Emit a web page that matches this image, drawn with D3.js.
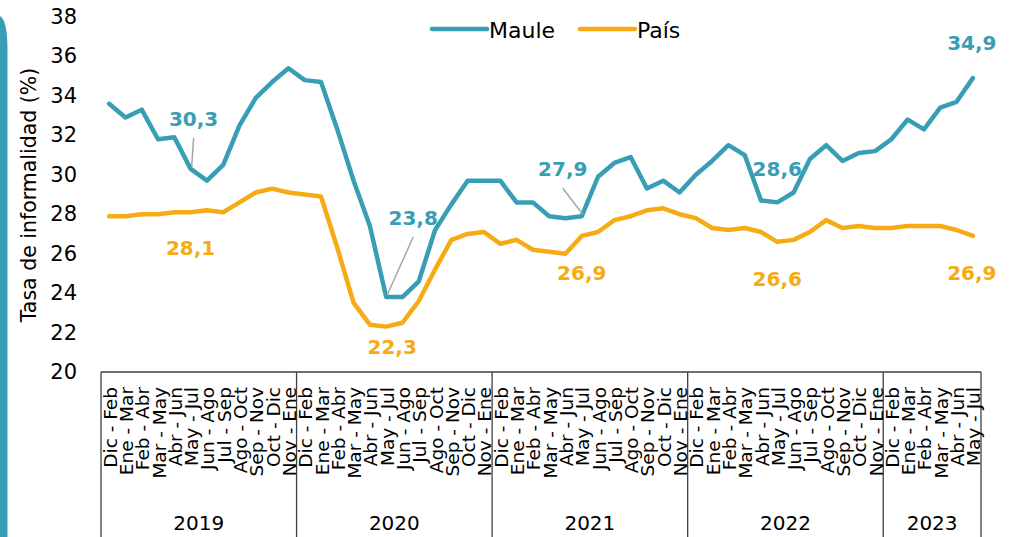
<!DOCTYPE html>
<html>
<head>
<meta charset="utf-8">
<script src="https://cdn.jsdelivr.net/npm/d3@7"></script>
<style>
  body { margin: 0; background: #fff; }
  svg { display: block; font-family: "DejaVu Sans", sans-serif; }
</style>
</head>
<body>
<div id="chart"></div>
<script>
// data
const years = ['2019', '2020', '2021', '2022', '2023'];
const yearCounts = [12, 12, 12, 12, 6];
const periods = ['Dic - Feb', 'Ene - Mar', 'Feb - Abr', 'Mar - May', 'Abr - Jun', 'May - Jul',
  'Jun - Ago', 'Jul - Sep', 'Ago - Oct', 'Sep - Nov', 'Oct - Dic', 'Nov - Ene'];

const maule = [
  33.6, 32.9, 33.3, 31.8, 31.9, 30.3, 29.7, 30.5, 32.5, 33.9, 34.7, 35.4,
  34.8, 34.7, 32.3, 29.7, 27.4, 23.8, 23.8, 24.6, 27.2, 28.5, 29.7, 29.7,
  29.7, 28.6, 28.6, 27.9, 27.8, 27.9, 29.9, 30.6, 30.9, 29.3, 29.7, 29.1,
  30.0, 30.7, 31.5, 31.0, 28.7, 28.6, 29.1, 30.8, 31.5, 30.7, 31.1, 31.2,
  31.8, 32.8, 32.3, 33.4, 33.7, 34.9
];
const pais = [
  27.9, 27.9, 28.0, 28.0, 28.1, 28.1, 28.2, 28.1, 28.6, 29.1, 29.3, 29.1,
  29.0, 28.9, 26.3, 23.5, 22.4, 22.3, 22.5, 23.6, 25.2, 26.7, 27.0, 27.1,
  26.5, 26.7, 26.2, 26.1, 26.0, 26.9, 27.1, 27.7, 27.9, 28.2, 28.3, 28.0,
  27.8, 27.3, 27.2, 27.3, 27.1, 26.6, 26.7, 27.1, 27.7, 27.3, 27.4, 27.3,
  27.3, 27.4, 27.4, 27.4, 27.2, 26.9
];
const yTicks = [20, 22, 24, 26, 28, 30, 32, 34, 36, 38];
const labelIdx = [5, 17, 29, 41, 53]; // points with value labels

const teal = '#379eb6', gold = '#f6ab14';

// categories built from years + periods
const cats = [];
years.forEach((yr, k) => {
  for (let m = 0; m < yearCounts[k]; m++) cats.push({ id: cats.length, year: yr, label: periods[m] });
});

const W = 1009, H = 537;
const svg = d3.select('#chart').append('svg').attr('width', W).attr('height', H);

// decorative stripe at the far left
svg.append('path')
  .attr('d', 'M0,16 C5,19 7.5,30 7.5,50 L7.5,537 L0,537 Z')
  .attr('fill', teal);

const x = d3.scaleBand().domain(cats.map(d => d.id)).range([101, 981]).padding(0);
const y = d3.scaleLinear().domain([20, 38]).range([372, 17]);
const cx = i => x(i) + x.bandwidth() / 2;

// y tick labels (no axis line)
svg.append('g').selectAll('text').data(yTicks).join('text')
  .attr('x', 77).attr('y', d => y(d))
  .attr('text-anchor', 'end').attr('dominant-baseline', 'central')
  .attr('font-size', 21).attr('fill', '#000')
  .text(d => d);

svg.append('text')
  .attr('transform', `translate(29,${(62 + 328) / 2}) rotate(-90)`)
  .attr('text-anchor', 'middle').attr('dominant-baseline', 'central')
  .attr('font-size', 20.5).attr('fill', '#000')
  .text('Tasa de informalidad (%)');

// x axis box + year separators
const axisCol = '#404040';
svg.append('line').attr('x1', 101).attr('x2', 981).attr('y1', 372).attr('y2', 372)
  .attr('stroke', axisCol).attr('stroke-width', 1.3);
let start = 0;
const bounds = [];
yearCounts.forEach((n, k) => {
  bounds.push({ x0: x(start), x1: x(start + n - 1) + x.bandwidth(), year: years[k] });
  start += n;
});
const sepX = [bounds[0].x0].concat(bounds.map(b => b.x1));
svg.append('g').selectAll('line').data(sepX).join('line')
  .attr('x1', d => d).attr('x2', d => d).attr('y1', 372).attr('y2', H)
  .attr('stroke', axisCol).attr('stroke-width', 1.3);

svg.append('g').selectAll('text').data(cats).join('text')
  .attr('transform', d => `translate(${cx(d.id) + 1},387) rotate(-90)`)
  .attr('text-anchor', 'end').attr('dominant-baseline', 'central')
  .attr('font-size', 18.5).attr('fill', '#000')
  .text(d => d.label);

svg.append('g').selectAll('text').data(bounds).join('text')
  .attr('x', d => (d.x0 + d.x1) / 2).attr('y', 523)
  .attr('text-anchor', 'middle').attr('dominant-baseline', 'central')
  .attr('font-size', 20).attr('fill', '#000')
  .text(d => d.year);

// lines
const line = d3.line().x((d, i) => cx(i)).y(d => y(d));
[[pais, gold], [maule, teal]].forEach(([vals, col]) => {
  svg.append('path').datum(vals).attr('d', line)
    .attr('fill', 'none').attr('stroke', col).attr('stroke-width', 4.5)
    .attr('stroke-linejoin', 'round').attr('stroke-linecap', 'round');
});

// value labels: offsets from the point, leaders where the reference has them
const fmt = v => d3.format('.1f')(v).replace('.', ',');
const mauleOff = [[3, -50, true], [27, -79, true], [-19, -47, true], [0, -33, false], [-1, -35, false]];
const paisOff = [[0, 36], [6, 20], [0, 37], [0, 37], [-1, 37]];
labelIdx.forEach((i, k) => {
  const px = cx(i), py = y(maule[i]);
  const [dx, dy, leader] = mauleOff[k];
  if (leader) {
    svg.append('line')
      .attr('x1', px + dx).attr('y1', py + dy + 19)
      .attr('x2', px + 1).attr('y2', py - 2)
      .attr('stroke', '#a6a6a6').attr('stroke-width', 1.5);
  }
  svg.append('text').attr('x', px + dx).attr('y', py + dy)
    .attr('text-anchor', 'middle').attr('dominant-baseline', 'central')
    .attr('font-size', 20).attr('font-weight', 'bold').attr('fill', teal)
    .text(fmt(maule[i]));
  const qy = y(pais[i]);
  svg.append('text').attr('x', px + paisOff[k][0]).attr('y', qy + paisOff[k][1])
    .attr('text-anchor', 'middle').attr('dominant-baseline', 'central')
    .attr('font-size', 20).attr('font-weight', 'bold').attr('fill', gold)
    .text(fmt(pais[i]));
});

// legend
const legend = [{ name: 'Maule', col: teal, x: 432 }, { name: 'País', col: gold, x: 580 }];
const lg = svg.append('g').selectAll('g').data(legend).join('g');
lg.append('line').attr('x1', d => d.x).attr('x2', d => d.x + 55).attr('y1', 29).attr('y2', 29)
  .attr('stroke', d => d.col).attr('stroke-width', 4.5).attr('stroke-linecap', 'round');
lg.append('text').attr('x', d => d.x + 57).attr('y', 30)
  .attr('dominant-baseline', 'central').attr('font-size', 22).attr('fill', '#000')
  .text(d => d.name);
</script>
</body>
</html>
